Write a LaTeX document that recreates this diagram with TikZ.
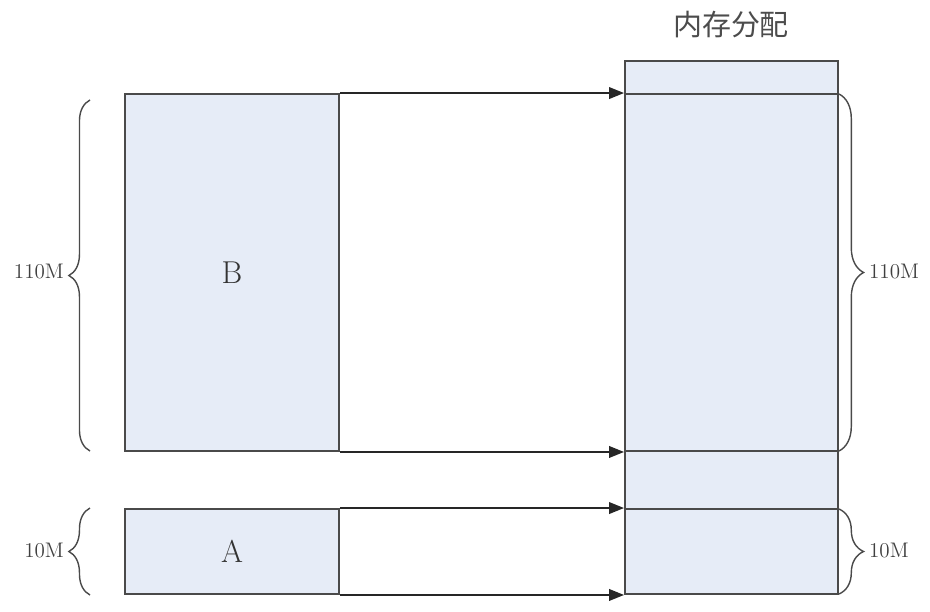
\documentclass[tikz,border=0pt]{standalone}
\usepackage{fontspec}
\newfontfamily\cjk{Noto Sans CJK SC}
\usetikzlibrary{fit,decorations.pathreplacing,arrows.meta}
\definecolor{memblue}{HTML}{E6ECF7}
\definecolor{edgegray}{HTML}{4A4A4A}

\begin{document}
\begin{tikzpicture}[x=0.02cm,y=-0.02cm,
  seg/.style={draw=edgegray, fill=memblue, line width=1.1pt, inner sep=0pt},
  link/.style={-{Triangle[length=8.5pt,width=6.6pt]}, line width=1pt, black!85},
  bracel/.style={decorate, decoration={brace,amplitude=12pt}, draw=edgegray, line width=0.8pt},
  bracer/.style={decorate, decoration={brace,amplitude=14pt}, draw=edgegray, line width=0.8pt},
  size/.style={font=\fontsize{12}{14}\selectfont, text=black!75, inner sep=1pt}]
 \useasboundingbox (0,0) rectangle (930,612);

 % programme
 \node[seg, fit={(125,94) (339,451)}] (B) {};
 \node[seg, fit={(125,509) (339,594)}] (A) {};
 \node[font=\fontsize{18}{18}\selectfont, text=black!80] (lblB) at (B.center) {B};
 \node[font=\fontsize{18}{18}\selectfont, text=black!80] (lblA) at (A.center) {A};

 % memory
 \node[seg, fit={(625,61) (838,94)}] (free) {};
 \node[seg, fit={(625,94) (838,451)}] (memB) {};
 \node[seg, fit={(625,451) (838,509)}] (gap) {};
 \node[seg, fit={(625,509) (838,594)}] (memA) {};
 \node[font=\cjk\fontsize{16.5}{18}\selectfont, text=black!70] (title) at (731,25) {内存分配};

 \draw[link] (B.north east) -- (memB.north west);
 \draw[link] (B.south east) -- (memB.south west);
 \draw[link] (A.north east) -- (memA.north west);
 \draw[link] (A.south east) -- (memA.south west);

 % sizes
 \draw[bracel] (90,451) -- (90,100);
 \node[size, anchor=east] (szB) at (66,272) {110M};
 \draw[bracel] (90,595) -- (90,508);
 \node[size, anchor=east] (szA) at (66,551) {10M};

 \draw[bracer] (839,94) -- (839,451);
 \node[size, anchor=west] (szmB) at (867,272) {110M};
 \draw[bracer] (839,509) -- (839,594);
 \node[size, anchor=west] (szmA) at (867,551) {10M};
\end{tikzpicture}
\end{document}
